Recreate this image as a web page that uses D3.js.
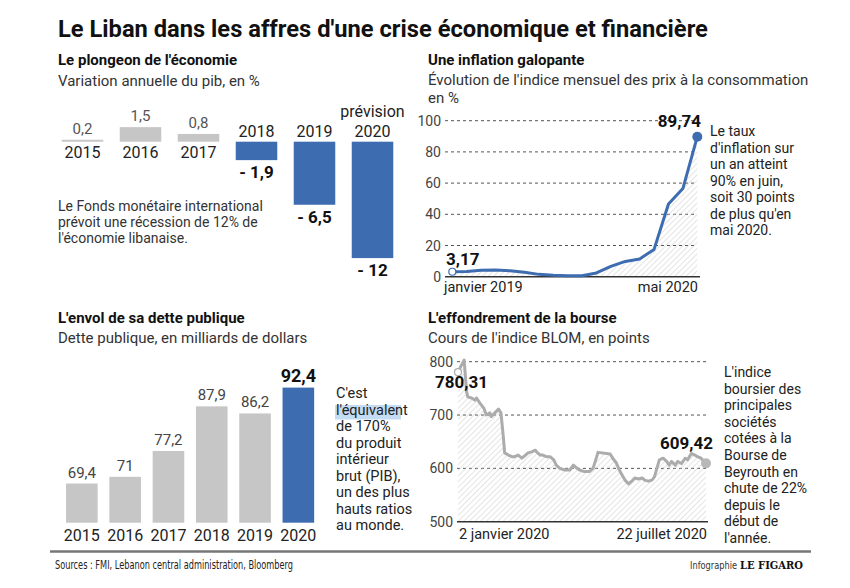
<!DOCTYPE html>
<html>
<head>
<meta charset="utf-8">
<script src="https://cdn.jsdelivr.net/npm/d3@7"></script>
<style>
  html, body { margin: 0; padding: 0; background: #fff; }
  svg { display: block; font-family: Roboto, "Noto Sans", sans-serif; }
</style>
</head>
<body>
<svg id="chart" width="850" height="588"></svg>
<script>
// ---------------- DATA ----------------
const gdpYears = ["2015", "2016", "2017", "2018", "2019", "2020"];
const gdpValues = [0.2, 1.5, 0.8, -1.9, -6.5, -12];

const debtYears = ["2015", "2016", "2017", "2018", "2019", "2020"];
const debtValues = [69.4, 71, 77.2, 87.9, 86.2, 92.4];

const inflMonths = ["2019-01","2019-02","2019-03","2019-04","2019-05","2019-06","2019-07","2019-08","2019-09",
  "2019-10","2019-11","2019-12","2020-01","2020-02","2020-03","2020-04","2020-05","2020-06"];
const inflValues = [3.17, 3.4, 4.1, 4.3, 3.8, 2.9, 1.5, 0.9, 0.6, 0.6, 2.4, 6.6, 9.8, 11.4, 17.5, 46.6, 56.5, 89.74];
const inflTicks = [0, 20, 40, 60, 80, 100];

const bourseDates = ["2020-01-02","2020-01-04","2020-01-07","2020-01-09","2020-01-10","2020-01-13","2020-01-16",
  "2020-01-17","2020-01-20","2020-01-23","2020-01-25","2020-01-28","2020-01-29","2020-02-01","2020-02-04",
  "2020-02-06","2020-02-08","2020-02-09","2020-02-12","2020-02-15","2020-02-17","2020-02-20","2020-02-23",
  "2020-02-26","2020-02-28","2020-03-02","2020-03-05","2020-03-06","2020-03-09","2020-03-11","2020-03-14",
  "2020-03-17","2020-03-20","2020-03-22","2020-03-25","2020-03-29","2020-04-02","2020-04-05","2020-04-08",
  "2020-04-10","2020-04-14","2020-04-18","2020-04-21","2020-04-24","2020-04-25","2020-05-05","2020-05-07",
  "2020-05-10","2020-05-13","2020-05-17","2020-05-20","2020-05-22","2020-05-25","2020-05-28","2020-05-31",
  "2020-06-02","2020-06-05","2020-06-08","2020-06-10","2020-06-14","2020-06-17","2020-06-20","2020-06-22",
  "2020-06-24","2020-06-27","2020-06-29","2020-07-02","2020-07-05","2020-07-07","2020-07-10","2020-07-13",
  "2020-07-15","2020-07-18","2020-07-22"];
const bourseValues = [780.31, 790, 803, 744, 734, 732, 728,
  732, 722, 713, 700, 704, 697, 704, 711,
  704, 657, 629, 625, 622, 622, 625, 619,
  625, 629, 631, 634, 631, 625, 625, 622,
  622, 616, 606, 600, 597, 597, 606, 600,
  597, 594, 594, 600, 622, 630, 627, 619,
  610, 594, 578, 571, 575, 582, 580, 582,
  578, 576, 578, 584, 616, 619, 613, 606,
  613, 606, 613, 609, 619, 616, 628, 625,
  622, 619, 609.42];
const bourseTicks = [500, 600, 700, 800];

const annotInfl = ["Le taux", "d'inflation sur", "un an atteint", "90% en juin,", "soit 30 points", "de plus qu'en", "mai 2020."];
const annotBourse = ["L'indice", "boursier des", "principales", "sociétés", "cotées à la", "Bourse de", "Beyrouth en", "chute de 22%", "depuis le", "début de", "l'année."];
const annotDebt = ["C'est", "l'équivalent", "de 170%", "du produit", "intérieur", "brut (PIB),", "un des plus", "hauts ratios", "au monde."];
const annotGdp = ["Le Fonds monétaire international", "prévoit une récession de 12% de", "l'économie libanaise."];

// ---------------- SETUP ----------------
const BLUE = "#3d6cb0";
const GRAY = "#c6c6c6";
const LINEGRAY = "#acacac";
const fr = d3.formatLocale({decimal: ",", thousands: " ", grouping: [3], currency: ["", "€"]});
const fmt = fr.format("");
const fmtSigned = v => v < 0 ? "- " + fmt(-v) : fmt(v);

const svg = d3.select("#chart");
svg.append("rect").attr("width", 850).attr("height", 588).attr("fill", "#fff");

const defs = svg.append("defs");
const pat = defs.append("pattern").attr("id", "hatch").attr("patternUnits", "userSpaceOnUse")
  .attr("width", 4).attr("height", 4).attr("patternTransform", "rotate(45)");
pat.append("line").attr("x1", 0).attr("y1", 0).attr("x2", 0).attr("y2", 4)
  .attr("stroke", "#c9c9c9").attr("stroke-width", 1);

function text(x, y, s, opts = {}) {
  const t = svg.append("text").attr("x", x).attr("y", y).text(s)
    .attr("font-size", opts.size || 15)
    .attr("font-weight", opts.weight || 400)
    .attr("fill", opts.fill || "#222")
    .attr("text-anchor", opts.anchor || "start");
  if (opts.family) t.attr("font-family", opts.family);
  if (opts.len) t.attr("textLength", opts.len).attr("lengthAdjust", "spacingAndGlyphs");
  return t;
}

// ---------------- TITLES ----------------
text(58, 37, "Le Liban dans les affres d'une crise économique et financière", {size: 23.7, weight: 700, fill: "#111"});
text(58, 65, "Le plongeon de l'économie", {size: 15, weight: 700, fill: "#111"});
text(58, 86, "Variation annuelle du pib, en %", {size: 15, fill: "#333"});
text(428, 65, "Une inflation galopante", {size: 15, weight: 700, fill: "#111"});
text(428, 85, "Évolution de l'indice mensuel des prix à la consommation", {size: 15, fill: "#333"});
text(428, 103, "en %", {size: 15, fill: "#333"});
text(58, 323, "L'envol de sa dette publique", {size: 15, weight: 700, fill: "#111"});
text(58, 343, "Dette publique, en milliards de dollars", {size: 15, fill: "#333"});
text(428, 323, "L'effondrement de la bourse", {size: 15, weight: 700, fill: "#111"});
text(428, 343, "Cours de l'indice BLOM, en points", {size: 15, fill: "#333"});

// ---------------- GDP ----------------
{
  const x = d3.scaleBand().domain(gdpYears).range([53.5, 401.5]).paddingInner(0.284).paddingOuter(0.142);
  const y = d3.scaleLinear().domain([-12, 0]).range([258.1, 141.7]);
  const g = svg.append("g");
  g.selectAll("rect").data(gdpYears).join("rect")
    .attr("x", d => x(d))
    .attr("width", x.bandwidth())
    .attr("y", (d, i) => y(Math.max(0, gdpValues[i])))
    .attr("height", (d, i) => Math.abs(y(gdpValues[i]) - y(0)))
    .attr("fill", (d, i) => gdpValues[i] < 0 ? BLUE : GRAY);
  gdpYears.forEach((yr, i) => {
    const v = gdpValues[i];
    const cx = x(yr) + x.bandwidth() / 2;
    if (v >= 0) {
      text(cx, y(v) - 6, fmtSigned(v), {size: 15, fill: "#555", anchor: "middle"});
      text(cx, y(0) + 16, yr, {size: 16, fill: "#222", anchor: "middle"});
    } else {
      text(cx, y(0) - 5, yr, {size: 16, fill: "#222", anchor: "middle"});
      text(cx, y(v) + 18, fmtSigned(v), {size: 17, weight: 700, fill: "#111", anchor: "middle"});
      if (i === gdpYears.length - 1) text(cx, y(0) - 25, "prévision", {size: 16, fill: "#222", anchor: "middle"});
    }
  });
  annotGdp.forEach((s, i) => text(58, 211 + i * 16, s, {size: 14, fill: "#333"}));
}

// ---------------- DEBT ----------------
{
  const x = d3.scaleBand().domain(debtYears).range([60.2, 320]).paddingInner(0.27).paddingOuter(0.135);
  const y = d3.scaleLinear().domain([60, 100]).range([522.7, 355.9]);
  svg.append("g").selectAll("rect").data(debtYears).join("rect")
    .attr("x", d => x(d))
    .attr("width", x.bandwidth())
    .attr("y", (d, i) => y(debtValues[i]))
    .attr("height", (d, i) => y(60) - y(debtValues[i]))
    .attr("fill", (d, i) => i === debtYears.length - 1 ? BLUE : GRAY);
  debtYears.forEach((yr, i) => {
    const cx = x(yr) + x.bandwidth() / 2;
    const last = i === debtYears.length - 1;
    text(cx, y(debtValues[i]) - 6, fmt(debtValues[i]),
      last ? {size: 18, weight: 700, fill: "#111", anchor: "middle"} : {size: 15, fill: "#444", anchor: "middle"});
    text(cx, y(60) + 18, yr, {size: 16, fill: "#222", anchor: "middle"});
  });
  svg.append("rect").attr("x", 335).attr("y", 405).attr("width", 66).attr("height", 14.5).attr("fill", "#c3dbf3");
  annotDebt.forEach((s, i) => text(336, 398 + i * 16.5, s, {size: 14.5, fill: "#222"}));
}

// ---------------- INFLATION ----------------
{
  const x = d3.scaleLinear().domain([0, inflValues.length - 1]).range([452.3, 697.3]);
  const y = d3.scaleLinear().domain([0, 100]).range([276.7, 120.7]);
  const g = svg.append("g");
  inflTicks.forEach(t => {
    if (t > 0) g.append("line").attr("x1", 445).attr("x2", 697).attr("y1", y(t)).attr("y2", y(t))
      .attr("stroke", "#555").attr("stroke-width", 1).attr("stroke-dasharray", "3,3");
    text(441, y(t) + 5, t, {size: 14, fill: "#444", anchor: "end"});
  });
  const area = d3.area().x((d, i) => x(i)).y0(y(0)).y1(d => y(d));
  g.append("path").datum(inflValues).attr("d", area).attr("fill", "url(#hatch)");
  g.append("line").attr("x1", 445).attr("x2", 700).attr("y1", y(0)).attr("y2", y(0))
    .attr("stroke", "#333").attr("stroke-width", 1.5);
  const line = d3.line().x((d, i) => x(i)).y(d => y(d));
  g.append("path").datum(inflValues).attr("d", line).attr("fill", "none")
    .attr("stroke", BLUE).attr("stroke-width", 3).attr("stroke-linejoin", "round");
  const n = inflValues.length - 1;
  g.append("circle").attr("cx", x(0)).attr("cy", y(inflValues[0])).attr("r", 3.5)
    .attr("fill", "#fff").attr("stroke", BLUE).attr("stroke-width", 1.2);
  g.append("circle").attr("cx", x(n)).attr("cy", y(inflValues[n])).attr("r", 5).attr("fill", BLUE);
  text(446, 265, fmt(inflValues[0]), {size: 17, weight: 700, fill: "#111"});
  text(701, 127, fmt(inflValues[n]), {size: 17, weight: 700, fill: "#111", anchor: "end"});
  text(444, 292, "janvier 2019", {size: 14.5, fill: "#222"});
  text(698, 292, "mai 2020", {size: 14.5, fill: "#222", anchor: "end"});
  annotInfl.forEach((s, i) => text(710, 136 + i * 16.5, s, {size: 14, fill: "#222"}));
}

// ---------------- BOURSE ----------------
{
  const parse = d3.timeParse("%Y-%m-%d");
  const dates = bourseDates.map(parse);
  const x = d3.scaleTime().domain([dates[0], dates[dates.length - 1]]).range([458, 706]);
  const y = d3.scaleLinear().domain([500, 800]).range([521.7, 361.7]);
  const g = svg.append("g");
  bourseTicks.forEach(t => {
    if (t > 500) g.append("line").attr("x1", 457).attr("x2", 707).attr("y1", y(t)).attr("y2", y(t))
      .attr("stroke", "#555").attr("stroke-width", 1).attr("stroke-dasharray", "3,3");
    text(453, y(t) + 5, t, {size: 14, fill: "#444", anchor: "end"});
  });
  const area = d3.area().x((d, i) => x(dates[i])).y0(y(500)).y1(d => y(d));
  g.append("path").datum(bourseValues).attr("d", area).attr("fill", "url(#hatch)");
  g.append("line").attr("x1", 457).attr("x2", 708).attr("y1", y(500)).attr("y2", y(500))
    .attr("stroke", "#333").attr("stroke-width", 1.5);
  const line = d3.line().x((d, i) => x(dates[i])).y(d => y(d));
  g.append("path").datum(bourseValues).attr("d", line).attr("fill", "none")
    .attr("stroke", LINEGRAY).attr("stroke-width", 3).attr("stroke-linejoin", "round");
  const n = bourseValues.length - 1;
  g.append("circle").attr("cx", x(dates[0])).attr("cy", y(bourseValues[0])).attr("r", 3.5)
    .attr("fill", "#fff").attr("stroke", LINEGRAY).attr("stroke-width", 1.2);
  g.append("circle").attr("cx", x(dates[n])).attr("cy", y(bourseValues[n])).attr("r", 5).attr("fill", "#b8b8b8");
  text(435, 388, fmt(bourseValues[0]), {size: 17, weight: 700, fill: "#111"});
  text(713, 449, fmt(bourseValues[n]), {size: 17, weight: 700, fill: "#111", anchor: "end"});
  text(459, 539, "2 janvier 2020", {size: 14.5, fill: "#222"});
  text(707, 539, "22 juillet 2020", {size: 14.5, fill: "#222", anchor: "end"});
  annotBourse.forEach((s, i) => text(724, 377 + i * 16.6, s, {size: 14, fill: "#222"}));
}

// ---------------- FOOTER ----------------
svg.append("line").attr("x1", 50).attr("x2", 811).attr("y1", 551.5).attr("y2", 551.5)
  .attr("stroke", "#777").attr("stroke-width", 2.5);
text(55, 569, "Sources : FMI, Lebanon central administration, Bloomberg", {size: 11.5, fill: "#222", len: 238, family: "'Liberation Sans Narrow', 'DejaVu Sans Condensed', Roboto, sans-serif"});
text(690, 569, "Infographie", {size: 10.5, fill: "#333", len: 47, family: "'Liberation Sans Narrow', 'DejaVu Sans Condensed', Roboto, sans-serif"});
text(740, 569, "LE FIGARO", {size: 11.5, weight: 700, fill: "#111", len: 63, family: "'DejaVu Serif', 'Liberation Serif', serif"});
</script>
</body>
</html>
